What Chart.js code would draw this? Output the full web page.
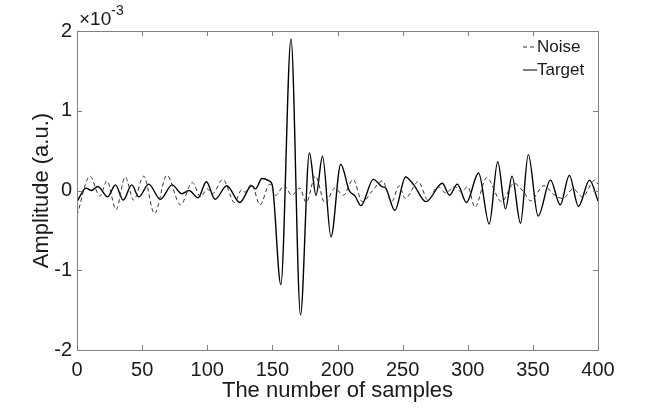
<!DOCTYPE html>
<html>
<head>
<meta charset="utf-8">
<script src="https://cdn.jsdelivr.net/npm/chart.js@4"></script>
<style>
  html, body { margin: 0; padding: 0; background: #fff; }
</style>
</head>
<body>
<canvas id="chart_main" width="645" height="408"></canvas>
<script>
"use strict";

// samples (x) and amplitude in units of 1e-3, read at the turning points
const noise_X  = [0, 10, 17.5, 23, 30, 37, 43.5, 51.2, 59.5, 69, 79.5, 88.5, 95, 100, 104, 112, 121, 126.5, 129, 134, 140.5,
                  148, 152.5, 159, 165, 171, 176, 183, 190.5, 198, 204.5, 212, 219, 227, 234.5, 241.5, 247.5, 252, 262,
                  269.5, 277, 283, 290, 295, 300, 305.5, 314.5, 326, 335.5, 343, 348, 358.5, 366, 373, 381, 388, 397.5, 400];
const noise_Y  = [-0.31, 0.18, -0.07, 0.12, -0.24, 0.17, -0.12, 0.18, -0.29, 0.19, -0.18, 0.10, -0.08, 0.02, -0.04, 0.14, -0.15, 0.01, -0.02, 0.08, -0.18,
                  0.08, -0.06, 0.06, -0.06, 0.03, -0.15, 0.18, -0.16, 0.03, -0.06, 0.14, -0.14, 0.00, 0.12, -0.14, 0.06, -0.10, 0.11,
                  -0.12, 0.05, -0.03, 0.05, -0.02, 0.05, -0.21, 0.16, -0.14, 0.09, -0.02, -0.13, 0.06, -0.05, -0.10, 0.02, -0.08, 0.13, 0.08];

const target_X = [0, 7, 11, 16, 23.5, 29.5, 35.5, 42, 47.5, 55, 64, 73, 80.5, 86, 93, 99.3, 106, 115, 125, 134, 137, 142, 147.5, 150,
                  156.5, 164.3, 171.6, 178.4, 183.5, 188.5, 195, 202.5, 209, 213.5, 218, 227.5, 234, 237, 244, 252.3, 258.5, 268,
                  280.5, 286, 292, 299, 308.3, 316.5, 323, 329, 334, 340.5, 346.5, 354, 363.5, 371, 378, 385, 393.5, 400];
const target_Y = [-0.14, 0.03, 0.00, 0.05, -0.08, 0.07, -0.12, 0.07, -0.08, 0.08, -0.11, 0.07, -0.04, 0.00, -0.09, 0.11, -0.11, 0.06, -0.15, 0.06, 0.02, 0.15, 0.12, 0.06,
                  -1.18, 1.90, -1.56, 0.47, -0.06, 0.43, -0.58, 0.33, 0.00, -0.07, -0.19, 0.14, 0.05, 0.03, -0.25, 0.17, 0.07, -0.14,
                  0.09, -0.06, 0.08, -0.15, 0.22, -0.42, 0.36, -0.23, 0.18, -0.41, 0.45, -0.32, 0.13, -0.18, 0.19, -0.20, 0.13, -0.13];

const x_Ticks  = [0, 50, 100, 150, 200, 250, 300, 350, 400];
const y_Ticks  = [-2, -1, 0, 1, 2];
const series_Na = ['Noise', 'Target'];

const toPts = (xs, ys) => xs.map((v, i) => ({ x: v, y: ys[i] }));

const FONT = 'Arial, "Liberation Sans", sans-serif';
const AXIS_C = '#808080';
const TXT_C = '#1a1a1a';

// frame, inward ticks, exponent, legend (matlab look)
const matlabBox = {
  id: 'matlabBox',
  afterDraw(chart) {
    const { ctx, chartArea: a, scales: { x, y } } = chart;
    const L = 5;
    ctx.save();
    ctx.strokeStyle = AXIS_C;
    ctx.lineWidth = 1;
    ctx.strokeRect(Math.round(a.left) + 0.5, Math.round(a.top) + 0.5, Math.round(a.width), Math.round(a.height));
    ctx.beginPath();
    x_Ticks.forEach(t => {
      const px = Math.round(x.getPixelForValue(t)) + 0.5;
      ctx.moveTo(px, a.bottom); ctx.lineTo(px, a.bottom - L);
      ctx.moveTo(px, a.top);    ctx.lineTo(px, a.top + L);
    });
    y_Ticks.forEach(t => {
      const py = Math.round(y.getPixelForValue(t)) + 0.5;
      ctx.moveTo(a.left, py);  ctx.lineTo(a.left + L, py);
      ctx.moveTo(a.right, py); ctx.lineTo(a.right - L, py);
    });
    ctx.stroke();

    // x10^-3
    ctx.fillStyle = TXT_C;
    ctx.textBaseline = 'alphabetic';
    ctx.textAlign = 'left';
    ctx.font = '19px ' + FONT;
    ctx.fillText('\u00d710', a.left + 2, a.top - 6);
    const w = ctx.measureText('\u00d710').width;
    ctx.font = '14px ' + FONT;
    ctx.fillText('-3', a.left + 2 + w, a.top - 16);

    // legend
    ctx.font = '17px ' + FONT;
    ctx.textBaseline = 'middle';
    chart.data.datasets.forEach((ds, i) => {
      const ly = 47 + i * 23, lx = 523;
      ctx.beginPath();
      ctx.strokeStyle = ds.borderColor;
      ctx.lineWidth = 1;
      ctx.setLineDash(ds.borderDash || []);
      ctx.moveTo(lx, ly); ctx.lineTo(lx + 14, ly);
      ctx.stroke();
      ctx.setLineDash([]);
      ctx.fillText(ds.label, lx + 14, ly);
    });
    ctx.restore();
  }
};

const ctx = document.getElementById('chart_main');
const chart = new Chart(ctx, {
  type: 'line',
  data: {
    datasets: [{
      label: series_Na[0],
      data: toPts(noise_X, noise_Y),
      borderColor: '#333333',
      borderWidth: 1,
      borderDash: [4, 3],
      pointRadius: 0,
      cubicInterpolationMode: 'monotone',
    }, {
      label: series_Na[1],
      data: toPts(target_X, target_Y),
      borderColor: '#000000',
      borderWidth: 1.4,
      pointRadius: 0,
      cubicInterpolationMode: 'monotone',
    }],
  },
  options: {
    responsive: false,
    animation: false,
    devicePixelRatio: 1,
    layout: { padding: { left: 25, right: 47, top: 31, bottom: 0 } },
    plugins: { legend: { display: false }, tooltip: { enabled: false } },
    scales: {
      x: {
        type: 'linear', min: 0, max: 400,
        afterFit: s => { s.height = 58; },
        afterBuildTicks: s => { s.ticks = x_Ticks.map(v => ({ value: v })); },
        grid: { display: false, drawTicks: false },
        border: { display: false },
        ticks: { color: TXT_C, font: { family: FONT, size: 20 }, padding: 8, maxRotation: 0, autoSkip: false },
        title: { display: true, text: 'The number of samples', color: TXT_C, font: { family: FONT, size: 22 }, padding: { top: 0 } },
      },
      y: {
        type: 'linear', min: -2, max: 2,
        afterFit: s => { s.width = 52; },
        afterBuildTicks: s => { s.ticks = y_Ticks.map(v => ({ value: v })); },
        grid: { display: false, drawTicks: false },
        border: { display: false },
        ticks: { color: TXT_C, font: { family: FONT, size: 20 }, padding: 5, autoSkip: false },
        title: { display: true, text: 'Amplitude (a.u.)', color: TXT_C, font: { family: FONT, size: 22 }, padding: { bottom: 4 } },
      },
    },
  },
  plugins: [matlabBox],
});
</script>
</body>
</html>
